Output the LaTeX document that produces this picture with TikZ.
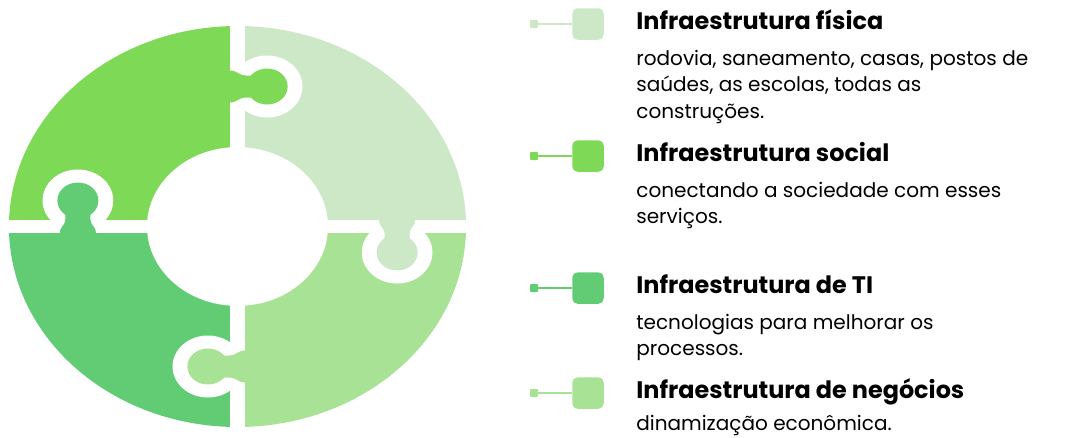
\documentclass[tikz,border=0pt]{standalone}
\usepackage{fontspec}
\setmainfont{Poppins}
\usepackage{xcolor}
\definecolor{piece-pale}{HTML}{CDE8C6}
\definecolor{piece-bright}{HTML}{7ED957}
\definecolor{piece-dark}{HTML}{62CC75}
\definecolor{piece-light}{HTML}{A8E294}

\begin{document}
\begin{tikzpicture}[
    x=0.02cm, y=-0.02cm,
    title/.style={anchor=base west, inner sep=0pt, font=\fontsize{13.6}{16}\selectfont\bfseries},
    body/.style={anchor=north west, inner sep=0pt, align=left, font=\fontsize{11.4}{15}\selectfont},
    dot/.style={inner sep=0pt, minimum size=0.16cm, rounded corners=0.5pt},
    swatch/.style={inner sep=0pt, minimum size=0.63cm, rounded corners=3pt},
]
\useasboundingbox (0,0) rectangle (1089,437);

% ring of four pieces
\begin{scope}[shift={(237.5,226.5)}, xscale=1.14]
    \begin{scope}
        \clip (0,0) circle (200.5);
        \fill[piece-bright] (0,0) rectangle (-201,-201);
        \fill[piece-pale] (0,0) rectangle (201,-201);
        \fill[piece-light] (0,0) rectangle (201,201);
        \fill[piece-dark] (0,0) rectangle (-201,201);
    \end{scope}
    \fill[white] (0,0) circle (79.4);
    % cuts between the pieces
    \fill[white] (-202,-6.5) rectangle (202,6.5);
    \fill[white] (-6.5,-202) rectangle (6.5,202);
    % tabs, each one turned a quarter further
    \foreach \a/\col in {0/piece-bright, 90/piece-dark, 180/piece-light, 270/piece-pale} {
        \begin{scope}[rotate=\a]
            \fill[white] (26,-140) circle (31);
            \fill[\col] (26,-140) circle (18);
            \fill[\col] (-7,-156) .. controls (0,-156) and (1,-151) .. (7,-151)
                -- (26,-151) -- (26,-129) -- (7,-129)
                .. controls (1,-129) and (0,-124) .. (-7,-124) -- cycle;
        \end{scope}
    }
\end{scope}

% legend markers
\foreach \i/\y/\col in {1/24/piece-pale, 2/156/piece-bright, 3/288/piece-dark, 4/393/piece-light} {
    \node[dot, fill=\col] (dot\i) at (534,\y) {};
    \node[swatch, fill=\col] (box\i) at (588,\y) {};
    \draw[line width=1.1pt, draw=\col] (dot\i) -- (box\i);
}

\node[title] (title1) at (636,29) {Infraestrutura física};
\node[body] (text1) at (636,50) {rodovia, saneamento, casas, postos de\\saúdes, as escolas, todas as\\construções.};

\node[title] (title2) at (636,161) {Infraestrutura social};
\node[body] (text2) at (636,182) {conectando a sociedade com esses\\serviços.};

\node[title] (title3) at (636,293) {Infraestrutura de TI};
\node[body] (text3) at (636,314) {tecnologias para melhorar os\\processos.};

\node[title] (title4) at (636,398) {Infraestrutura de negócios};
\node[body] (text4) at (636,415) {dinamização econômica.};
\end{tikzpicture}
\end{document}
